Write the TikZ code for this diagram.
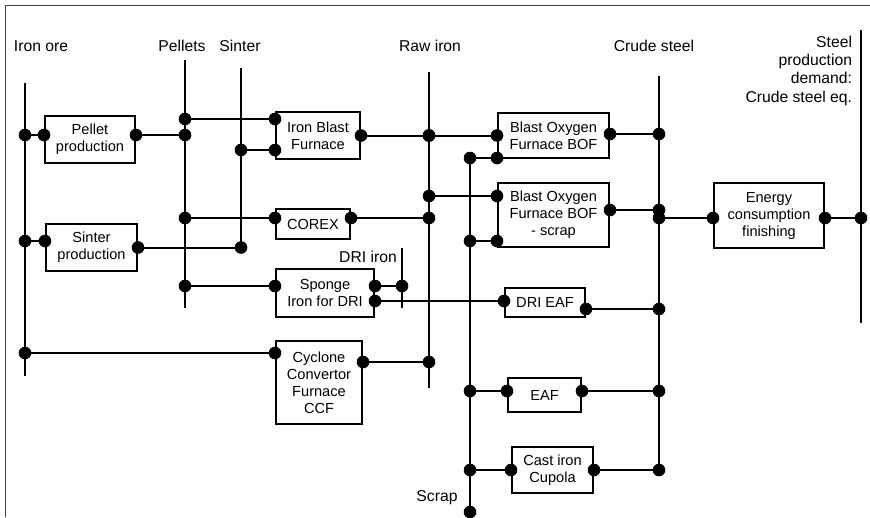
\documentclass[tikz,border=0pt]{standalone}
\usepackage{fontspec}
\setmainfont{Liberation Sans}
\usetikzlibrary{positioning, calc}
\newcommand\dotrad{6.3pt}
% a wire from a port to a bus (or a box), with a dot at both ends
\newcommand\wire[2]{%
  \draw[wire] (#1) -- (#1 -| #2);
  \fill (#1) circle (\dotrad) (#1 -| #2) circle (\dotrad);}
\tikzset{
  every picture/.style={font=\fontsize{14.6}{17}\selectfont, line width=2pt},
  box/.style n args={2}{draw, align=center, inner sep=0pt, minimum width=#1, minimum height=#2},
  lbl/.style={inner sep=0pt, font=\fontsize{15.7}{18.3}\selectfont},
  bus/.style={line width=2pt},
  wire/.style={line width=2pt},
  frame/.style={line width=1pt, draw=black!75},
}
\begin{document}
\begin{tikzpicture}[x=1pt, y=-1pt]
  \useasboundingbox (0,0) rectangle (870,517);
  \draw[frame] (5,517) -- (5,5) -- (870,5);
  % bus labels
  \node[lbl] (l-ore) at (41,46) {Iron ore};
  \node[lbl] (l-pel) at (182,46) {Pellets};
  \node[lbl] (l-sin) at (240,46) {Sinter};
  \node[lbl] (l-raw) at (430,46) {Raw iron};
  \node[lbl] (l-cru) at (654,46) {Crude steel};
  \node[lbl, align=right, anchor=east] (l-dem) at (853,70.5) {Steel\\production\\demand:\\Crude steel eq.};
  \node[lbl] (l-dri) at (368,257) {DRI iron};
  \node[lbl] (l-scr) at (437,498) {Scrap};
  % buses
  \coordinate (ore-t) at (25,83);   \coordinate (ore-b) at (25,376);
  \coordinate (pel-t) at (185,60);  \coordinate (pel-b) at (185,308);
  \coordinate (sin-t) at (241,68);  \coordinate (sin-b) at (241,248);
  \coordinate (raw-t) at (429,72);  \coordinate (raw-b) at (429,388);
  \coordinate (dri-t) at (402,248); \coordinate (dri-b) at (402,308);
  \coordinate (scr-t) at (470,158); \coordinate (scr-b) at (470,512);
  \coordinate (cru-t) at (659,76);  \coordinate (cru-b) at (659,470);
  \coordinate (dem-t) at (861,30);  \coordinate (dem-b) at (861,323);
  \foreach \b in {ore, pel, sin, raw, dri, scr, cru, dem}
    \draw[bus] (\b-t) -- (\b-b);
  % processes
  \node[box={90pt}{47pt}] (ppr) at (90,139.5) {Pellet\\production};
  \node[box={91pt}{47pt}] (spr) at (91.5,247.5) {Sinter\\production};
  \node[box={84pt}{47pt}] (ibf) at (318,135.5) {Iron Blast\\Furnace};
  \node[box={74pt}{30pt}] (corex) at (313,224) {COREX};
  \node[box={98pt}{48pt}] (spo) at (325,293) {Sponge\\Iron for DRI};
  \node[box={86pt}{83pt}] (ccf) at (319,382.5) {Cyclone\\Convertor\\Furnace\\CCF};
  \node[box={111pt}{45pt}] (bof) at (553.5,135.5) {Blast Oxygen\\Furnace BOF};
  \node[box={111pt}{64pt}] (bofs) at (553.5,215) {Blast Oxygen\\Furnace BOF\\- scrap};
  \node[box={80pt}{29pt}] (drieaf) at (545,302.5) {DRI EAF};
  \node[box={73pt}{34pt}] (eaf) at (544.5,395) {EAF};
  \node[box={81pt}{46pt}] (cup) at (552.5,470) {Cast iron\\Cupola};
  \node[box={110pt}{65pt}] (ene) at (769,215.5) {Energy\\consumption\\finishing};
  % iron making
  \wire{[yshift=4.5pt]ppr.west}{ore-t}
  \wire{[yshift=4.5pt]ppr.east}{pel-t}
  \wire{[yshift=6.5pt]spr.west}{ore-t}
  \wire{spr.east}{sin-t}
  \wire{[yshift=16.5pt]ibf.west}{pel-t}
  \wire{[yshift=-14.5pt]ibf.west}{sin-t}
  \wire{ibf.east}{raw-t}
  \wire{[yshift=6pt]corex.west}{pel-t}
  \wire{[yshift=6pt]corex.east}{raw-t}
  \wire{[yshift=7pt]spo.west}{pel-t}
  \wire{[yshift=7pt]spo.east}{dri-t}
  \wire{[yshift=-8pt]spo.east}{drieaf.west}
  \wire{[yshift=29.5pt]ccf.west}{ore-t}
  \wire{[yshift=20.5pt]ccf.east}{raw-t}
  % steel making
  \wire{bof.west}{raw-t}
  \wire{[yshift=-22.5pt]bof.west}{scr-t}
  \wire{[yshift=1.5pt]bof.east}{cru-t}
  \wire{[yshift=19pt]bofs.west}{raw-t}
  \wire{[yshift=-26pt]bofs.west}{scr-t}
  \wire{[yshift=5pt]bofs.east}{cru-t}
  \wire{[yshift=-6.5pt]drieaf.east}{cru-t}
  \wire{[yshift=4pt]eaf.west}{scr-t}
  \wire{[yshift=4pt]eaf.east}{cru-t}
  \wire{cup.west}{scr-t}
  \wire{cup.east}{cru-t}
  % finishing
  \wire{[yshift=-2.5pt]ene.west}{cru-t}
  \wire{[yshift=-2.5pt]ene.east}{dem-t}
  \fill (scr-b) circle (\dotrad);
\end{tikzpicture}
\end{document}
